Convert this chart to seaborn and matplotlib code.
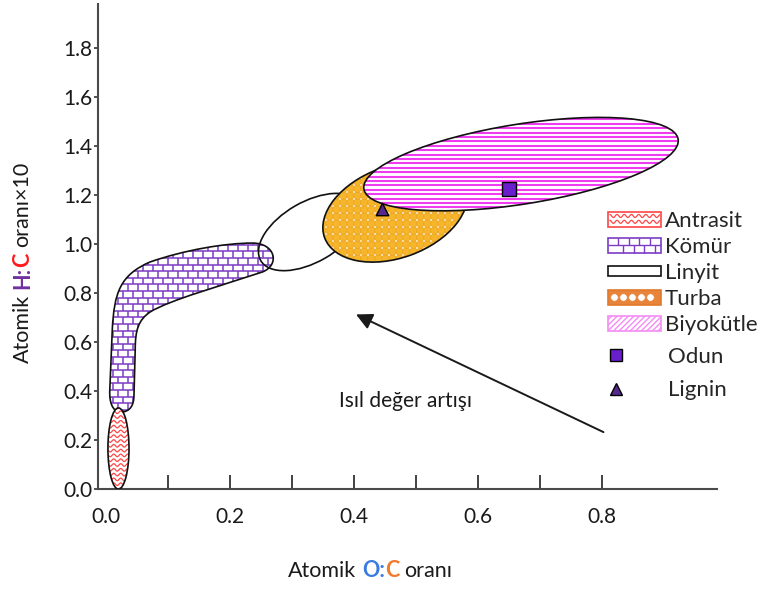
import numpy as np
import pandas as pd
import matplotlib
matplotlib.use("Agg")
import matplotlib.pyplot as plt
import matplotlib.transforms as mtransforms
import seaborn as sns
from matplotlib.patches import Ellipse, PathPatch, Rectangle, Patch
from matplotlib.path import Path
from matplotlib.collections import LineCollection
from matplotlib.lines import Line2D
from matplotlib.legend_handler import HandlerBase, HandlerLine2D

sns.set_theme(style="white")
plt.rcParams["font.family"] = ["Lato", "DejaVu Sans"]

# ---------------------------------------------------------------------------
# Van Krevelen regions (atomic O:C ratio vs atomic H:C ratio)
# Elliptical regions: centre O:C, centre H:C, length / thickness (O:C units), tilt
ellipse_names = ["Antrasit", "Linyit", "Turba", "Biyokütle"]
ellipse_oc = [0.020, 0.329, 0.466, 0.669]
ellipse_hc = [0.165, 1.048, 1.130, 1.325]
ellipse_len = [0.034, 0.184, 0.242, 0.513]
ellipse_thick = [0.131, 0.097, 0.148, 0.129]
ellipse_tilt = [0, 30, 20, 9]

# Coal (Kömür) region outline, Bezier control points (O:C, H:C)
komur_oc = [0.024, 0.010, 0.005, 0.006, 0.010, 0.013, 0.023, 0.071,
            0.127, 0.192, 0.236, 0.273, 0.281, 0.252, 0.184, 0.103,
            0.071, 0.052, 0.047, 0.047, 0.045, 0.045, 0.039, 0.024, 0.024]
komur_hc = [0.314, 0.314, 0.355, 0.404, 0.648, 0.803, 0.873, 0.926,
            0.975, 1.003, 1.003, 1.003, 0.914, 0.885, 0.828, 0.771,
            0.722, 0.689, 0.648, 0.567, 0.383, 0.343, 0.314, 0.314, 0.314]

# Individual samples
sample_names = ["Odun", "Lignin"]
sample_oc = [0.650, 0.445]
sample_hc = [1.223, 1.140]

# Heating-value trend arrow (from -> to)
trend_from = [0.802, 0.232]
trend_to = [0.403, 0.712]
trend_label = "Isıl değer artışı"
trend_label_pos = [0.482, 0.360]

x_ticks = [0.0, 0.1, 0.2, 0.3, 0.4, 0.5, 0.6, 0.7, 0.8]
x_ticklabels = ["0.0", "", "0.2", "", "0.4", "", "0.6", "", "0.8"]
y_ticks = [0.0, 0.2, 0.4, 0.6, 0.8, 1.0, 1.2, 1.4, 1.6, 1.8]

legend_labels = ["Antrasit", "Kömür", "Linyit", "Turba", "Biyokütle"]

# ---------------------------------------------------------------------------
C_ANT = "#ff4646"
C_KOM = "#7b3cc4"
C_TUR = "#f7b52c"
C_TUR_EDGE = "#eba41f"
C_BIO = "#f03cf0"
C_OUT = "#111111"
C_TXT = "#1a1a1a"

fig = plt.figure(figsize=(7.6, 5.89), dpi=100)
ax = fig.add_axes([98 / 760, 100 / 589, 619 / 760, 485 / 589])
xlim = (-0.013, 0.985)
ylim = (0.0, 1.978)
ax.set_xlim(*xlim)
ax.set_ylim(*ylim)

W = ax.bbox.width
H = ax.bbox.height
# vertical stretch between the two axes so ellipses keep their on-screen shape
k = (H / (ylim[1] - ylim[0])) / (W / (xlim[1] - xlim[0]))
iso = mtransforms.Affine2D().scale(1, 1 / k) + ax.transData


def ellipse(i, **kw):
    return Ellipse((ellipse_oc[i], ellipse_hc[i] * k), ellipse_len[i],
                   ellipse_thick[i], angle=ellipse_tilt[i], transform=iso, **kw)


def komur_path():
    codes = ([Path.MOVETO] + [Path.CURVE4] * 3 + [Path.LINETO]
             + [Path.CURVE4] * 15 + [Path.LINETO] + [Path.CURVE4] * 3
             + [Path.CLOSEPOLY])
    return Path(np.column_stack([komur_oc, komur_hc]), codes)


# --- fill textures (pixel spacing, drawn in axes fraction) -----------------
def wave_segments(spacing, wavelength, amp):
    xs = np.arange(0, W + 1, 0.5)
    segs = []
    for y0 in np.arange(0, H, spacing):
        ys = y0 + amp * np.sin(2 * np.pi * xs / wavelength)
        segs.append(np.column_stack([xs / W, ys / H]))
    return segs


def brick_segments(row, brick):
    segs = []
    for j, y0 in enumerate(np.arange(0, H, row)):
        segs.append([(0, y0 / H), (1, y0 / H)])
        off = (brick / 2) * (j % 2)
        for x0 in np.arange(off, W, brick):
            segs.append([(x0 / W, y0 / H), (x0 / W, (y0 + row) / H)])
    return segs


def stripe_segments(spacing):
    return [[(0, y / H), (1, y / H)] for y in np.arange(0, H, spacing)]


def add_texture(segs, clip, color, lw, z):
    lc = LineCollection(segs, colors=color, linewidths=lw,
                        transform=ax.transAxes, zorder=z)
    ax.add_collection(lc)
    lc.set_clip_path(clip)


# Kömür
kom_fill = PathPatch(komur_path(), facecolor="white", edgecolor="none", zorder=2)
ax.add_patch(kom_fill)
add_texture(brick_segments(6.6, 10.0), kom_fill, C_KOM, 1.1, 2.1)
ax.add_patch(PathPatch(komur_path(), fill=False, edgecolor=C_OUT, lw=1.2, zorder=2.2))

# Antrasit
ant_fill = ellipse(0, facecolor="white", edgecolor="none", zorder=2.5)
ax.add_patch(ant_fill)
add_texture(wave_segments(4.8, 7.0, 1.3), ant_fill, C_ANT, 0.9, 2.6)
ax.add_patch(ellipse(0, fill=False, edgecolor=C_OUT, lw=1.2, zorder=2.7))

# Linyit (outline only)
ax.add_patch(ellipse(1, fill=False, edgecolor=C_OUT, lw=1.2, zorder=3))

# Turba
tur_fill = ellipse(2, facecolor="white", edgecolor="none", zorder=4)
ax.add_patch(tur_fill)
gx, gy = np.meshgrid(np.arange(0, W, 7.0), np.arange(0, H, 7.0))
dots = ax.scatter(gx.ravel() / W, gy.ravel() / H, s=30, color=C_TUR,
                  edgecolors=C_TUR_EDGE, linewidths=0.5,
                  transform=ax.transAxes, zorder=4.1)
dots.set_clip_path(tur_fill)
ax.add_patch(ellipse(2, fill=False, edgecolor=C_OUT, lw=1.2, zorder=4.2))

# Biyokütle
bio_fill = ellipse(3, facecolor="white", edgecolor="none", zorder=5)
ax.add_patch(bio_fill)
add_texture(stripe_segments(4.4), bio_fill, C_BIO, 1.5, 5.1)
ax.add_patch(ellipse(3, fill=False, edgecolor=C_OUT, lw=1.2, zorder=5.2))

# Samples
samples = pd.DataFrame({"name": sample_names, "oc": sample_oc, "hc": sample_hc})
sample_colors = {"Odun": "#6a1fcc", "Lignin": "#55298c"}
sample_markers = {"Odun": "s", "Lignin": "^"}
sample_sizes = {"Odun": 100, "Lignin": 80}
for name in sample_names:
    sns.scatterplot(data=samples[samples.name == name], x="oc", y="hc",
                    marker=sample_markers[name], color=sample_colors[name],
                    s=sample_sizes[name], edgecolor="black", linewidth=1.0,
                    ax=ax, zorder=6, legend=False)

# Trend arrow
ax.annotate("", xy=trend_to, xytext=trend_from,
            arrowprops=dict(arrowstyle="-|>,head_length=0.75,head_width=0.38",
                            color=C_TXT, lw=1.4, shrinkA=0, shrinkB=0,
                            mutation_scale=13), zorder=6)
ax.text(trend_label_pos[0], trend_label_pos[1], trend_label, fontsize=15,
        ha="center", va="center", color=C_TXT)

# --- axes styling -----------------------------------------------------------
for side in ("top", "right"):
    ax.spines[side].set_visible(False)
for side in ("left", "bottom"):
    ax.spines[side].set_color("#4a4a4a")
    ax.spines[side].set_linewidth(1.5)

ax.set_xticks(x_ticks, x_ticklabels)
ax.set_yticks(y_ticks, [f"{v:.1f}" for v in y_ticks])
ax.tick_params(axis="x", direction="in", length=10, width=1.3, color="#333333",
               pad=13, labelsize=15, labelcolor=C_TXT, bottom=True)
ax.tick_params(axis="y", direction="out", length=3, width=1.2, color="#333333",
               pad=0.8, labelsize=15, labelcolor=C_TXT, left=True)
ax.xaxis.get_major_ticks()[0].tick1line.set_visible(False)
ax.set_xlabel("")
ax.set_ylabel("")
ax.grid(False)


# --- multi-coloured axis titles --------------------------------------------
def chain_title(pieces, x, y, rotation, size):
    first = pieces[0]
    if rotation:
        prev = fig.text(x, y, first[0], color=first[1], fontweight=first[2], fontsize=size,
                        rotation=90, ha="center", va="bottom")
    else:
        prev = fig.text(x, y, first[0], color=first[1], fontweight=first[2], fontsize=size,
                        ha="left", va="baseline")
    for text, color, weight, gap in pieces[1:]:
        if rotation:
            prev = ax.annotate(text, xy=(0.5, 1), xycoords=prev, xytext=(0, gap),
                               textcoords="offset points", rotation=90, ha="center",
                               va="bottom", color=color, fontweight=weight, fontsize=size,
                               annotation_clip=False)
        else:
            prev = ax.annotate(text, xy=(1, 0), xycoords=prev, xytext=(gap, 0),
                               textcoords="offset points", ha="left", va="bottom",
                               color=color, fontweight=weight, fontsize=size,
                               annotation_clip=False)


sp = 4.0
chain_title([("Atomik", C_TXT, "normal", 0),
             ("H:", "#7030a0", "bold", sp),
             ("C", "#ff1a1a", "bold", 0),
             ("oranı×10", C_TXT, "normal", sp)],
            22.5 / 760, 1 - 363 / 589, True, 15.5)
chain_title([("Atomik", C_TXT, "normal", 0),
             ("O:", "#3a7be0", "bold", sp),
             ("C", "#ee7a30", "bold", 0),
             ("oranı", C_TXT, "normal", sp)],
            288 / 760, 1 - 577 / 589, False, 15.5)


# --- legend -----------------------------------------------------------------
class SwatchHandler(HandlerBase):
    def __init__(self, kind):
        super().__init__()
        self.kind = kind

    def create_artists(self, legend, orig_handle, xd, yd, width, height, fontsize, trans):
        x0, y0 = -xd, -yd
        out = []
        if self.kind == "ant":
            out.append(Rectangle((x0, y0), width, height, facecolor="white",
                                 edgecolor=C_ANT, lw=1.2, transform=trans))
            xs = np.linspace(x0 + 1, x0 + width - 1, 120)
            segs = []
            for yc in (y0 + height * 0.32, y0 + height * 0.72):
                segs.append(np.column_stack([xs, yc + 1.1 * np.sin(2 * np.pi * (xs - x0) / 5.2)]))
            out.append(LineCollection(segs, colors=C_ANT, linewidths=0.9, transform=trans))
        elif self.kind == "kom":
            out.append(Rectangle((x0, y0), width, height, facecolor="white",
                                 edgecolor=C_KOM, lw=1.2, transform=trans))
            segs = [[(x0, y0 + height / 2), (x0 + width, y0 + height / 2)]]
            for r, (ya, yb) in enumerate(((y0 + height / 2, y0 + height), (y0, y0 + height / 2))):
                for xv in np.arange(x0 + 7.5 + 3.5 * r, x0 + width - 1, 7.5):
                    segs.append([(xv, ya), (xv, yb)])
            out.append(LineCollection(segs, colors=C_KOM, linewidths=1.0, transform=trans))
        elif self.kind == "lin":
            out.append(Rectangle((x0, y0 + 1.5), width, height - 3, facecolor="white",
                                 edgecolor=C_OUT, lw=1.2, transform=trans))
        elif self.kind == "tur":
            out.append(Rectangle((x0, y0), width, height, facecolor="#e8843a",
                                 edgecolor="#e07a2e", lw=1.2, transform=trans))
            xs = np.arange(x0 + 4, x0 + width - 2, 6.5)
            out.append(Line2D(xs, np.full_like(xs, y0 + height / 2), ls="none",
                              marker="o", ms=5.5, mfc="white", mec="#e8843a",
                              mew=0.6, transform=trans))
        elif self.kind == "bio":
            out.append(Rectangle((x0, y0), width, height, facecolor="white",
                                 edgecolor="#f48cf4", lw=1.2, hatch="//////",
                                 transform=trans))
        return out


class LeftMarkerHandler(HandlerLine2D):
    def get_xdata(self, legend, xdescent, ydescent, width, height, fontsize):
        c = -xdescent + 6.0
        return np.array([c - 0.5, c + 0.5]), np.array([c])


legend_kinds = ["ant", "kom", "lin", "tur", "bio"]
swatches = [Patch(label=lab) for lab in legend_labels]
leg1 = ax.legend(handles=swatches, labels=legend_labels,
                 handler_map={h: SwatchHandler(kd) for h, kd in zip(swatches, legend_kinds)},
                 loc="upper left", bbox_to_anchor=(608 / 760, 1 - 211 / 589),
                 bbox_transform=fig.transFigure, frameon=False, fontsize=16,
                 borderpad=0, borderaxespad=0, handlelength=2.4, handleheight=0.64,
                 handletextpad=0.15, labelspacing=0.27)
ax.add_artist(leg1)

marker_handles = [Line2D([], [], ls="none", marker=sample_markers[n], ms=9,
                         mfc=sample_colors[n], mec="black", mew=1.0, label=n)
                  for n in sample_names]
ax.legend(handles=marker_handles,
          handler_map={h: LeftMarkerHandler(numpoints=1) for h in marker_handles},
          loc="upper left", bbox_to_anchor=(608 / 760, 1 - 347 / 589),
          bbox_transform=fig.transFigure, frameon=False, fontsize=16,
          borderpad=0, borderaxespad=0, handlelength=2.55, handleheight=0.64,
          handletextpad=0.15, labelspacing=0.6)

fig.savefig("out.png", dpi=100)
